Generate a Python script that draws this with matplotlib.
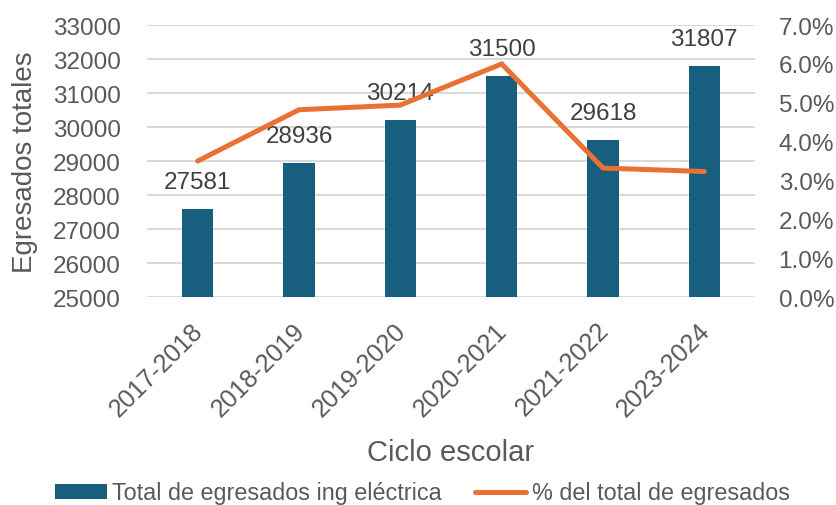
import matplotlib.pyplot as plt
import matplotlib.transforms as mtransforms
from matplotlib.ticker import PercentFormatter

# data
ciclos = ["2017-2018", "2018-2019", "2019-2020", "2020-2021", "2021-2022", "2023-2024"]
egresados = [27581, 28936, 30214, 31500, 29618, 31807]
pct_total = [3.50, 4.82, 4.94, 6.00, 3.32, 3.23]

bar_color = "#175E7F"
line_color = "#E97132"
txt = "#595959"

plt.rcParams['font.family'] = ['Liberation Sans', 'DejaVu Sans']

fig = plt.figure(figsize=(8.37, 5.06), dpi=100)
ax = fig.add_axes([0.1756, 0.411, 0.7264, 0.5375])
ax2 = ax.twinx()

x = range(len(ciclos))
bars = ax.bar(x, egresados, width=0.31, color=bar_color, zorder=2,
              label="Total de egresados ing eléctrica")
ax.set_ylim(25000, 33000)
ax.set_yticks(range(25000, 33001, 1000))
ax.set_xlim(-0.5, len(ciclos) - 0.5)
ax.grid(axis='y', color="#D9D9D9", lw=1.4, zorder=0)

for xi, v in zip(x, egresados):
    ax.annotate(str(v), (xi, v), xytext=(0, 15), textcoords='offset points',
                ha='center', va='baseline', fontsize=17.5, color="#404040", zorder=5)

ln, = ax2.plot(x, pct_total, color=line_color, lw=3.6, solid_capstyle='round',
               solid_joinstyle='miter', zorder=3, label="% del total de egresados")
ax2.set_ylim(0, 7)
ax2.set_yticks(range(0, 8))
ax2.yaxis.set_major_formatter(PercentFormatter(decimals=1))

for a in (ax, ax2):
    for s in a.spines.values():
        s.set_visible(False)
ax.tick_params(axis='y', length=0, pad=19, labelsize=17.5, labelcolor=txt)
ax2.tick_params(axis='y', length=0, pad=17, labelsize=17.5, labelcolor=txt)
ax.tick_params(axis='x', length=0, pad=21, labelsize=18.2, labelcolor=txt)

ax.set_xticks(list(x))
ax.set_xticklabels(ciclos, rotation=45, ha='right', va='center', rotation_mode='anchor')
shift = mtransforms.ScaledTranslation(2 / 100, 0, fig.dpi_scale_trans)
for lab in ax.get_xticklabels():
    lab.set_transform(lab.get_transform() + shift)

ax.set_ylabel("Egresados totales", fontsize=20, color=txt)
ax.yaxis.set_label_coords(-0.18, 0.5)
fig.text(0.538, 0.105, "Ciclo escolar", fontsize=21, color=txt, ha='center', va='center')

fig.legend(handles=[bars, ln], loc='center', bbox_to_anchor=(0.505, 0.024), ncol=2,
           frameon=False, fontsize=16.8, handlelength=2.2, handleheight=0.6,
           handletextpad=0.25, columnspacing=1.4, labelcolor=txt)

fig.savefig("out.png", dpi=100)
